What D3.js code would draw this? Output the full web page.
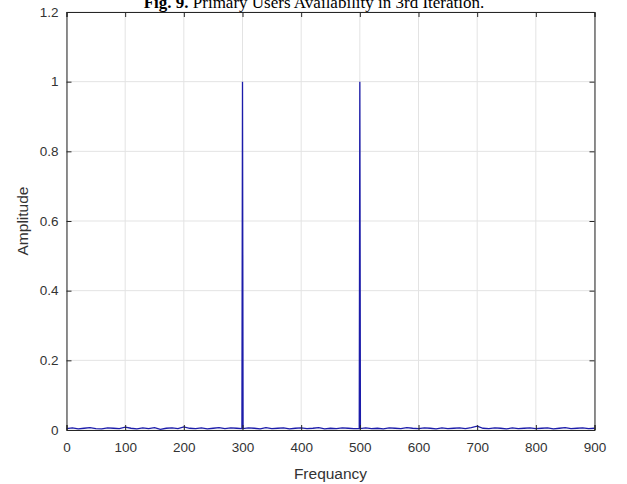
<!DOCTYPE html>
<html>
<head>
<meta charset="utf-8">
<script src="https://cdn.jsdelivr.net/npm/d3@7"></script>
<style>
  body { margin: 0; background: #fff; }
  svg { display: block; }
</style>
</head>
<body>
<svg width="627" height="484"></svg>
<script>
// data
const xTicks = [0, 100, 200, 300, 400, 500, 600, 700, 800, 900];
const yTicks = [0, 0.2, 0.4, 0.6, 0.8, 1, 1.2];
const yTickLabels = ['0', '0.2', '0.4', '0.6', '0.8', '1', '1.2'];

// background noise, sampled every 10 Hz from 0 to 900
const noiseFreq = d3.range(0, 901, 10);
const noiseAmp = [
  0.004, 0.006, 0.003, 0.005, 0.007, 0.004, 0.003, 0.006, 0.005, 0.004,
  0.008, 0.005, 0.003, 0.006, 0.004, 0.007, 0.002, 0.005, 0.006, 0.004,
  0.009, 0.005, 0.004, 0.006, 0.003, 0.005, 0.007, 0.004, 0.006, 0.005,
  0.004, 0.006, 0.005, 0.003, 0.007, 0.004, 0.005, 0.006, 0.003, 0.005,
  0.006, 0.004, 0.005, 0.007, 0.003, 0.005, 0.004, 0.006, 0.005, 0.004,
  0.005, 0.006, 0.004, 0.005, 0.003, 0.006, 0.005, 0.004, 0.007, 0.005,
  0.004, 0.006, 0.005, 0.003, 0.006, 0.004, 0.005, 0.006, 0.004, 0.007,
  0.011, 0.005, 0.004, 0.006, 0.005, 0.003, 0.006, 0.004, 0.005, 0.006,
  0.004, 0.005, 0.006, 0.003, 0.005, 0.007, 0.004, 0.005, 0.006, 0.004,
  0.005
];

// the two primary user carriers
const spikeFreq = [299, 300, 301, 499, 500, 501];
const spikeAmp = [0.004, 1, 0.004, 0.004, 1, 0.004];

const series = noiseFreq.map((f, i) => ({f: f, a: noiseAmp[i]}))
  .filter(d => d.f !== 300 && d.f !== 500)
  .concat(spikeFreq.map((f, i) => ({f: f, a: spikeAmp[i]})))
  .sort((a, b) => a.f - b.f);

const svg = d3.select('svg');
const margin = {top: 12, right: 32.5, bottom: 54, left: 66.5};
const width = 627 - margin.left - margin.right;
const plotH = 484 - margin.top - margin.bottom;

const x = d3.scaleLinear().domain([0, 900]).range([0, width]);
const y = d3.scaleLinear().domain([0, 1.2]).range([plotH, 0]);

const graph = svg.append('g')
  .attr('transform', `translate(${margin.left},${margin.top})`);

// grid
graph.append('g')
  .selectAll('line')
  .data(xTicks)
  .join('line')
  .attr('x1', d => x(d)).attr('x2', d => x(d))
  .attr('y1', 0).attr('y2', plotH)
  .attr('stroke', '#e3e3e3').attr('stroke-width', 1);

graph.append('g')
  .selectAll('line')
  .data(yTicks)
  .join('line')
  .attr('x1', 0).attr('x2', width)
  .attr('y1', d => y(d)).attr('y2', d => y(d))
  .attr('stroke', '#e3e3e3').attr('stroke-width', 1);

// spectrum line
const line = d3.line()
  .x(d => x(d.f))
  .y(d => y(d.a));

graph.append('path')
  .datum(series)
  .attr('d', line)
  .attr('fill', 'none')
  .attr('stroke', '#1c1caa')
  .attr('stroke-width', 1.3);

// axes (ticks pointing inward like matlab)
const axisColor = '#262626';
const xAxis = d3.axisBottom(x).tickValues(xTicks).tickSize(-5).tickPadding(12);
const yAxis = d3.axisLeft(y).tickValues(yTicks).tickSize(-5).tickPadding(8)
  .tickFormat((d, i) => yTickLabels[i]);

const xAxisGroup = graph.append('g')
  .attr('transform', `translate(0, ${plotH})`)
  .call(xAxis);
const yAxisGroup = graph.append('g').call(yAxis);

graph.append('g')
  .call(d3.axisTop(x).tickValues(xTicks).tickSize(-5).tickFormat(''));
graph.append('g')
  .attr('transform', `translate(${width},0)`)
  .call(d3.axisRight(y).tickValues(yTicks).tickSize(-5).tickFormat(''));

svg.selectAll('.domain').attr('stroke', axisColor).attr('stroke-width', 1);
svg.selectAll('.tick line').attr('stroke', axisColor);
svg.selectAll('.tick text')
  .attr('fill', '#333')
  .style('font-family', 'Liberation Sans, Arial, sans-serif')
  .style('font-size', '13.5px');

// axis labels
svg.append('text')
  .attr('x', margin.left + width / 2)
  .attr('y', 479)
  .attr('text-anchor', 'middle')
  .attr('fill', '#333')
  .style('font-family', 'Liberation Sans, Arial, sans-serif')
  .style('font-size', '15.5px')
  .text('Frequancy');

svg.append('text')
  .attr('transform', `translate(28, ${margin.top + plotH / 2}) rotate(-90)`)
  .attr('text-anchor', 'middle')
  .attr('fill', '#333')
  .style('font-family', 'Liberation Sans, Arial, sans-serif')
  .style('font-size', '15.5px')
  .text('Amplitude');

// title, cut off at the top edge like the scan
const title = svg.append('text')
  .attr('x', 314)
  .attr('y', 8)
  .attr('text-anchor', 'middle')
  .style('font-family', 'Liberation Serif, Times New Roman, serif')
  .style('font-size', '17px')
  .attr('fill', '#000');
title.append('tspan').style('font-weight', 'bold').text('Fig. 9. ');
title.append('tspan').text('Primary Users Availability in 3rd Iteration.');
</script>
</body>
</html>
